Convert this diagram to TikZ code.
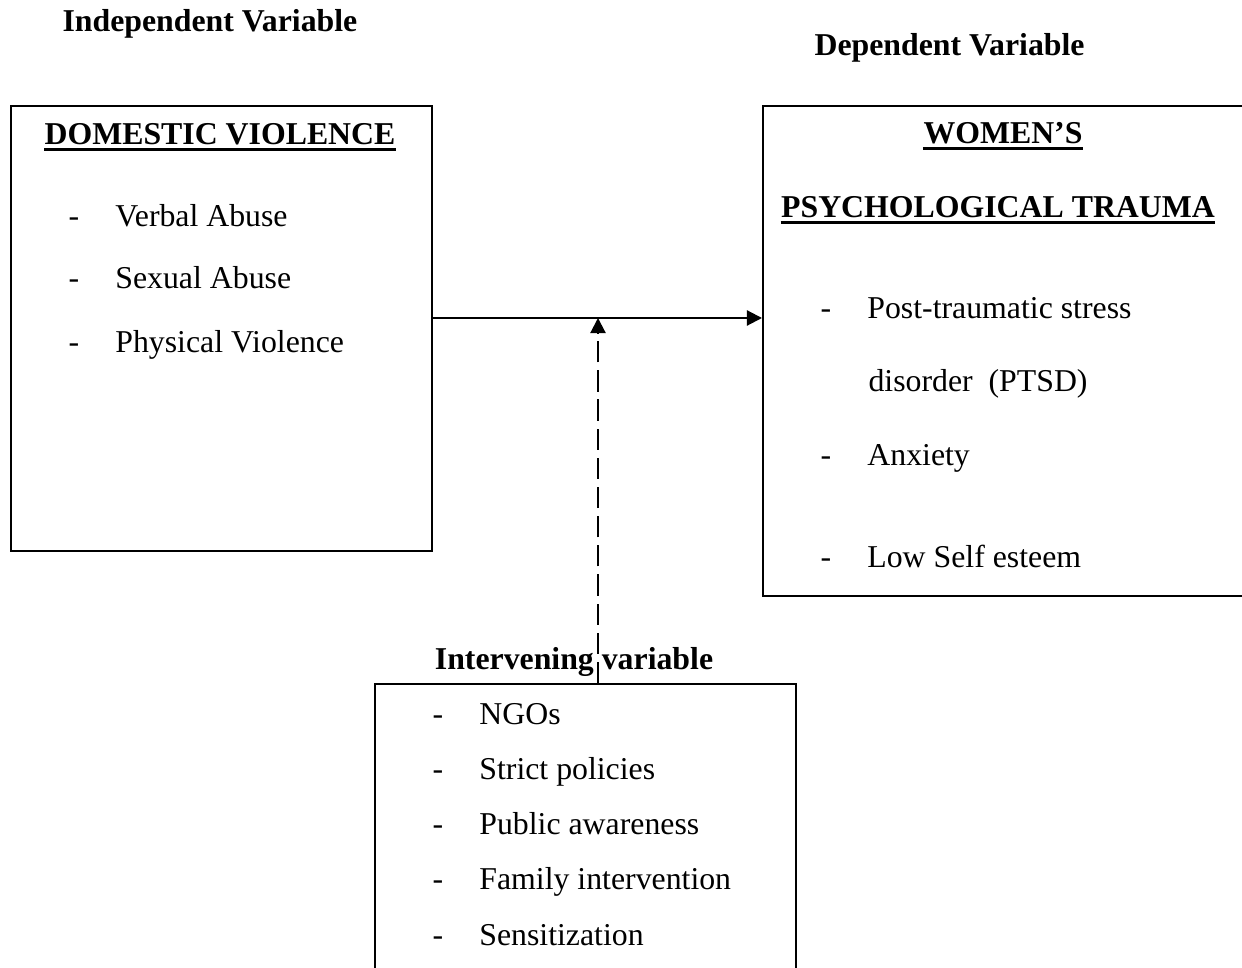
\documentclass[tikz,border=0pt]{standalone}
\usepackage{fontspec}
\setmainfont{Liberation Serif}
\usetikzlibrary{arrows.meta}

\def\px{0.3774pt}
\newcommand{\dashitem}{\makebox[17.7pt][l]{-}}

\begin{document}
\begin{tikzpicture}[x=0.3774pt, y=-0.3774pt,
    box/.style={draw, line width=0.9pt, rectangle, anchor=north west, inner sep=0pt},
    head/.style={font=\fontsize{12}{14}\selectfont\bfseries, anchor=base, inner sep=0pt},
    item/.style={font=\fontsize{12}{14}\selectfont, anchor=base west, inner sep=0pt},
    uline/.style={line width=1.1pt},
    link/.style={line width=0.8pt, -{Triangle[length=5.7pt,width=5.7pt]}}]
    \clip (0,0) rectangle (1242,968);

    % the three boxes
    \node[box, minimum width=421*\px, minimum height=445*\px] (dv) at (10,105) {};
    \node[box, minimum width=520*\px, minimum height=490*\px] (wpt) at (762,105) {};
    \node[box, minimum width=421*\px, minimum height=320*\px] (iv) at (374,683) {};

    % variable labels
    \node[head, anchor=base west] (indep) at (62,32) {Independent Variable};
    \node[head, anchor=base west] (dep) at (814,56) {Dependent Variable};
    \node[head] (ivlabel) at (574,669) {Intervening variable};

    % box titles
    \node[head] (dvtitle) at (220,145) {DOMESTIC VIOLENCE};
    \node[head] (wtitle) at (1003,144) {WOMEN'S};
    \node[head] (pttitle) at (998,218) {PSYCHOLOGICAL TRAUMA};
    \draw[uline] ([yshift=-1.6pt]dvtitle.base west) -- ([yshift=-1.6pt]dvtitle.base east);
    \draw[uline] ([yshift=-1.6pt]wtitle.base west) -- ([yshift=-1.6pt]wtitle.base east);
    \draw[uline] ([yshift=-1.6pt]pttitle.base west) -- ([yshift=-1.6pt]pttitle.base east);

    % domestic violence
    \node[item] (verbal) at (68,227) {\dashitem Verbal Abuse};
    \node[item] (sexual) at (68,289) {\dashitem Sexual Abuse};
    \node[item] (physical) at (68,353) {\dashitem Physical Violence};

    % psychological trauma
    \node[item] (ptsd) at (820,319) {\dashitem Post-traumatic stress};
    \node[item] (ptsdb) at (868,392) {disorder~~(PTSD)};
    \node[item] (anxiety) at (820,465) {\dashitem Anxiety};
    \node[item] (esteem) at (820,567) {\dashitem Low Self esteem};

    % intervening
    \node[item] (ngo) at (432,724) {\dashitem NGOs};
    \node[item] (policy) at (432,779) {\dashitem Strict policies};
    \node[item] (aware) at (432,834) {\dashitem Public awareness};
    \node[item] (family) at (432,889) {\dashitem Family intervention};
    \node[item] (sens) at (432,945) {\dashitem Sensitization};

    % arrows
    \coordinate (mid) at (598,318);
    \draw[link] (dv.east |- mid) -- (wpt.west |- mid);
    \draw[link, dash pattern=on 8pt off 3pt] (iv.north -| mid) -- (mid);
\end{tikzpicture}
\end{document}
